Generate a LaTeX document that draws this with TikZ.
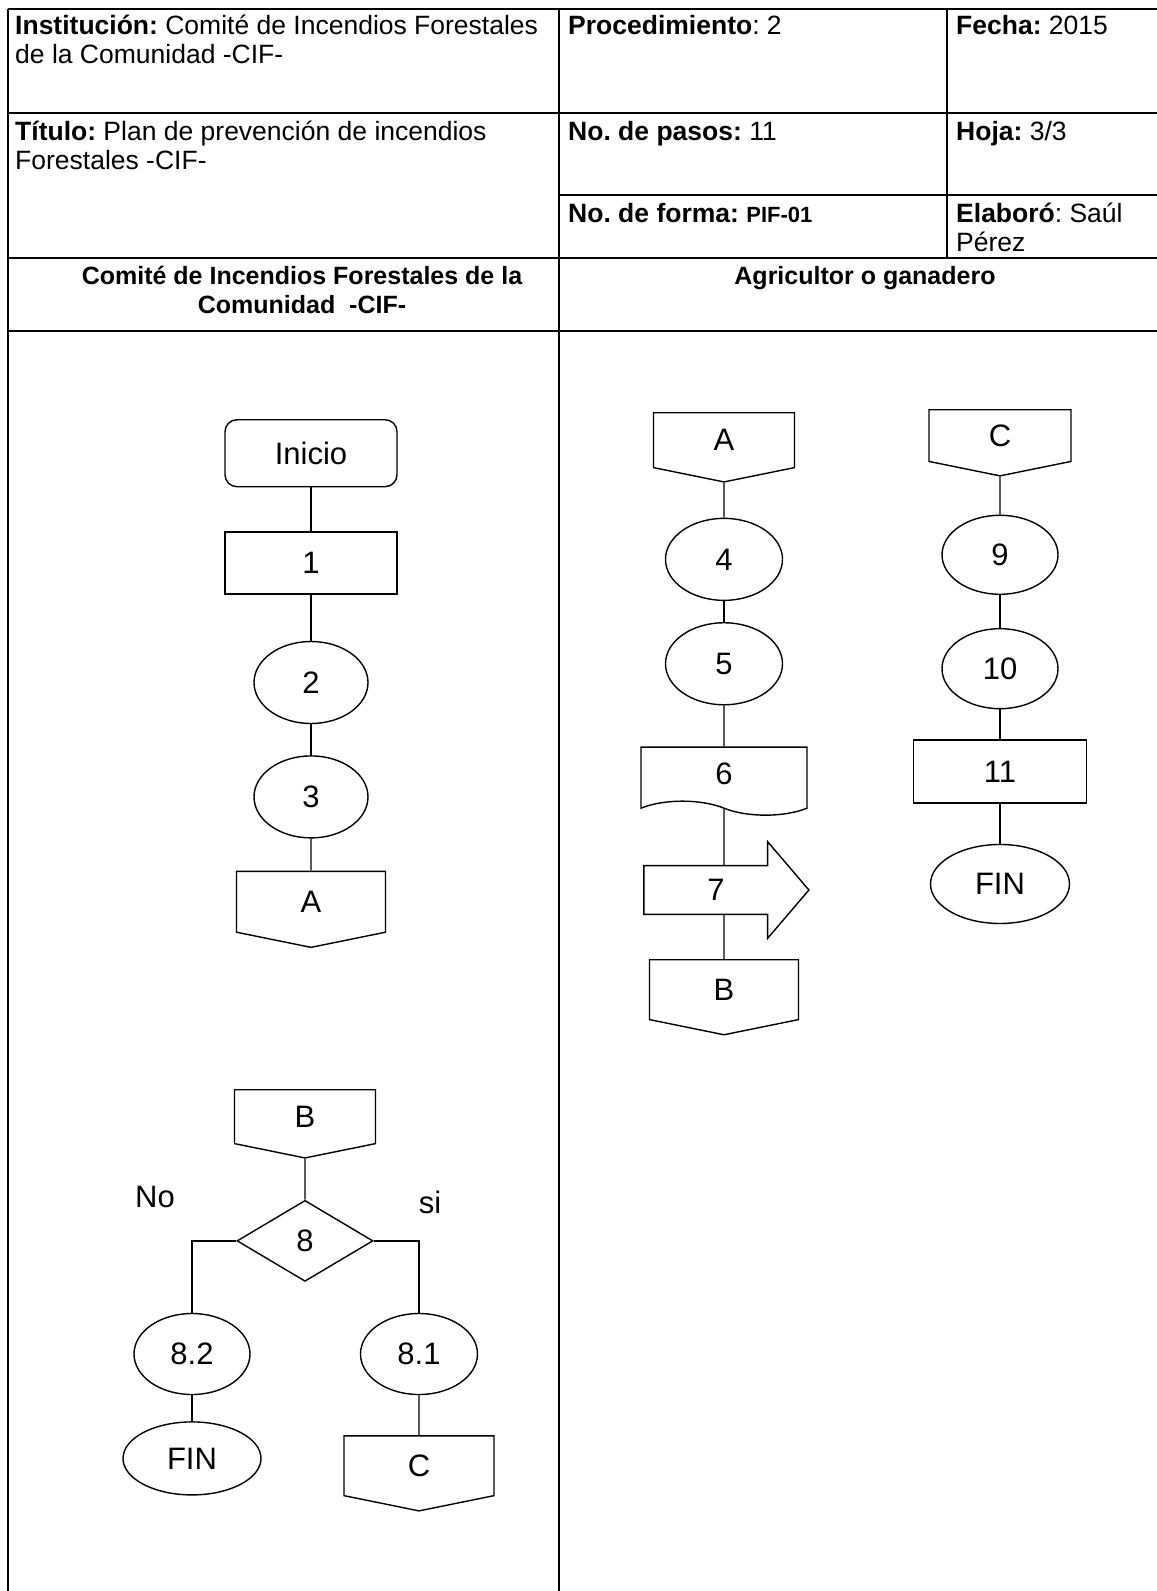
\documentclass[tikz,border=0pt]{standalone}
\usepackage{fontspec}
\setmainfont{Liberation Sans}
\frenchspacing
\usetikzlibrary{positioning, shapes.geometric, shapes.symbols, shapes.arrows}

\begin{document}
\begin{tikzpicture}[
    x=1pt, y=-1pt,
    grid/.style={line width=2pt},
    cell/.style={anchor=north west, inner sep=0pt, align=left,
                 font=\fontsize{26.5}{29}\selectfont},
    lane/.style={anchor=north, inner sep=0pt, align=center,
                 font=\fontsize{25}{29}\selectfont\bfseries},
    box/.style={draw=black, line width=1.4pt, inner sep=0pt,
                font=\fontsize{31}{31}\selectfont},
    terminal/.style={box, rectangle, rounded corners=12pt,
                     minimum width=172pt, minimum height=67pt},
    process/.style={box, rectangle, minimum width=172pt, minimum height=62pt},
    activity/.style={box, ellipse, minimum width=116pt, minimum height=82pt},
    connector/.style={box, signal, signal to=south, signal from=nowhere,
                      signal pointer angle=157, minimum width=145pt,
                      minimum height=57pt},
    document/.style={box, tape, tape bend top=none, tape bend bottom=out and in,
                     tape bend height=14pt, minimum width=166pt,
                     minimum height=68pt},
    transfer/.style={box, single arrow, single arrow head extend=24pt,
                     single arrow tip angle=99, inner ysep=13pt,
                     minimum width=96pt, minimum height=165pt},
    decision/.style={box, diamond, minimum width=136pt, minimum height=81pt},
    answer/.style={inner sep=0pt, font=\fontsize{31}{31}\selectfont},
    link/.style={line width=1.4pt}
]
\clip (0,0) rectangle (1157,1591);

% Header table
\draw[grid] (7.5,9) -- (1170,9);
\draw[grid] (7.5,113) -- (1170,113);
\draw[grid] (559,195) -- (1170,195);
\draw[grid] (7.5,258) -- (1170,258);
\draw[grid] (7.5,331) -- (1170,331);
\draw[grid] (7.5,9) -- (7.5,1600);
\draw[grid] (559,9) -- (559,1600);
\draw[grid] (947,9) -- (947,258);

\node[cell] (inst) at (15,15) {\textbf{Institución:} Comité de Incendios Forestales\\de la Comunidad -CIF-};
\node[cell] (proc) at (568,15) {\textbf{Procedimiento}: 2};
\node[cell] (fecha) at (956,15) {\textbf{Fecha:} 2015};
\node[cell] (titulo) at (15,121) {\textbf{Título:} Plan de prevención de incendios\\Forestales -CIF-};
\node[cell] (pasos) at (568,121) {\textbf{No. de pasos:} 11};
\node[cell] (hoja) at (956,121) {\textbf{Hoja:} 3/3};
\node[cell] (forma) at (568,203) {\textbf{No. de forma: {\fontsize{22}{22}\selectfont PIF-01}}};
\node[cell] (elab) at (956,203) {\textbf{Elaboró}: Saúl\\Pérez};

% Lanes
\node[lane] (laneCIF) at (302,266) {Comité de Incendios Forestales de la\\Comunidad\ \ -CIF-};
\node[lane] (laneAgr) at (865,266) {Agricultor o ganadero};

% Left lane, first part
\node[terminal, anchor=north] (inicio) at (311,419) {Inicio};
\node[process, below=44pt of inicio] (p1) {1};
\node[activity, minimum width=114pt, below=46pt of p1] (p2) {2};
\node[activity, minimum width=114pt, below=31pt of p2] (p3) {3};
\node[connector, minimum width=149pt, minimum height=63pt, below=32pt of p3] (conA) {A};

% Middle lane
\node[connector, anchor=north, minimum width=141pt] (conA2) at (724,412) {A};
\node[activity, minimum width=117pt, below=35pt of conA2] (p4) {4};
\node[activity, minimum width=117pt, below=21pt of p4] (p5) {5};
\node[document, below=41pt of p5] (p6) {6};
\node[transfer] (p7) at (716,890) {7};
\node[connector, anchor=north, minimum width=149pt, minimum height=62pt] (conB) at (724,959) {B};

% Right lane
\node[connector, anchor=north, minimum width=142pt, minimum height=54pt] (conC2) at (1000,409) {C};
\node[activity, minimum height=79pt, below=38pt of conC2] (p9) {9};
\node[activity, minimum height=80pt, below=33pt of p9] (p10) {10};
\node[process, minimum width=173pt, minimum height=63pt, below=30pt of p10] (p11) {11};
\node[activity, minimum width=139pt, minimum height=79pt, below=40pt of p11] (fin1) {FIN};

% Left lane, decision
\node[connector, anchor=north, minimum width=141pt, minimum height=56pt] (conB2) at (305,1089) {B};
\node[decision, below=41pt of conB2] (p8) {8};
\node[activity, minimum height=81pt] (p82) at (192,1354) {8.2};
\node[activity, minimum width=138pt, minimum height=73pt, below=26pt of p82] (fin2) {FIN};
\node[activity, minimum width=117pt, minimum height=81pt] (p81) at (419,1354) {8.1};
\node[connector, minimum width=150pt, minimum height=62pt, below=40pt of p81] (conC) {C};
\node[answer] (no) at (155,1197) {No};
\node[answer] (si) at (430,1202) {si};

% Relations
\draw[link] (inicio) -- (p1);
\draw[link] (p1) -- (p2);
\draw[link] (p2) -- (p3);
\draw[link] (p3) -- (conA);
\draw[link] (conA2) -- (p4);
\draw[link] (p4) -- (p5);
\draw[link] (p5) -- (p6);
\draw[link] (p6) -- (p6 |- p7.90);
\draw[link] (conB |- p7.270) -- (conB);
\draw[link] (conC2) -- (p9);
\draw[link] (p9) -- (p10);
\draw[link] (p10) -- (p11);
\draw[link] (p11) -- (fin1);
\draw[link] (conB2) -- (p8);
\draw[link] (p8.west) -| (p82);
\draw[link] (p8.east) -| (p81);
\draw[link] (p82) -- (fin2);
\draw[link] (p81) -- (conC);

\end{tikzpicture}
\end{document}
